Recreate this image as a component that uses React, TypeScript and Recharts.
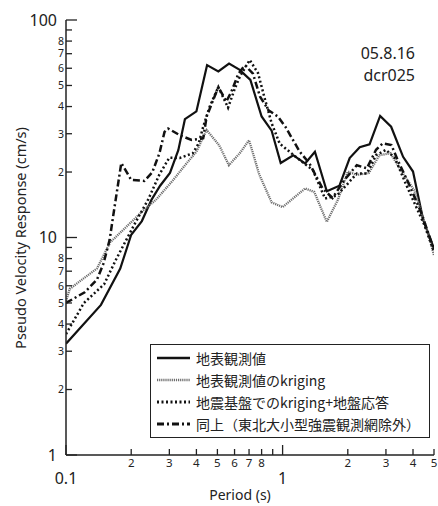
import React from 'react';
import { LineChart, Line, XAxis, YAxis, Legend } from 'recharts';

// 地表観測値
const obsPeriods = [0.1, 0.145, 0.178, 0.2, 0.224, 0.248, 0.272, 0.302, 0.33, 0.354, 0.4, 0.448, 0.505, 0.566, 0.634, 0.71, 0.8, 0.89, 0.98, 1.12, 1.27, 1.41, 1.6, 1.83, 2.04, 2.27, 2.52, 2.82, 3.17, 3.6, 4.0, 4.46, 5.0];
const obsValues = [3.25, 4.9, 7.2, 10.3, 11.9, 14.9, 17.3, 19.8, 25.2, 35, 38, 62, 58, 63, 59, 53, 36, 31, 22, 23.9, 21.9, 24.8, 16.3, 17.3, 23.2, 26, 26.8, 36.2, 32.3, 23.5, 20.1, 12, 8.9];

// 地表観測値のkriging
const krigPeriods = [0.1, 0.104, 0.121, 0.139, 0.16, 0.19, 0.229, 0.26, 0.31, 0.36, 0.4, 0.446, 0.51, 0.565, 0.634, 0.7, 0.78, 0.89, 1.0, 1.27, 1.4, 1.6, 1.8, 2.0, 2.2, 2.5, 2.8, 3.15, 3.5, 4.05, 4.6, 5.0];
const krigValues = [5.1, 5.8, 6.5, 7.2, 9.5, 11.2, 13.4, 14.9, 18.2, 21.9, 24.8, 31.2, 26.5, 21.5, 24.4, 28.0, 19.5, 14.5, 13.8, 16.8, 16.2, 11.8, 14.9, 20.1, 19.4, 19.8, 23.9, 24.4, 20.5, 16.5, 11.2, 8.3];

// 地震基盤でのkriging+地盤応答
const basePeriods = [0.1, 0.121, 0.15, 0.17, 0.206, 0.24, 0.27, 0.3, 0.335, 0.385, 0.41, 0.43, 0.46, 0.505, 0.56, 0.6, 0.634, 0.705, 0.77, 0.83, 0.89, 0.97, 1.2, 1.38, 1.57, 1.78, 1.97, 2.2, 2.45, 2.7, 3.0, 3.3, 3.7, 4.1, 4.5, 5.0];
const baseValues = [3.6, 5.0, 6.1, 7.9, 11.4, 15.0, 19.5, 23.3, 23.2, 24.4, 27.1, 32.3, 39.8, 49.2, 39.5, 48, 54.8, 65.5, 57, 43, 33.5, 27, 22.7, 20.4, 15.1, 15.6, 17.4, 19.7, 19.7, 23.9, 25.3, 23.2, 17.7, 14.1, 11.5, 8.6];

// 同上（東北大小型強震観測網除外）
const restPeriods = [0.1, 0.122, 0.139, 0.149, 0.159, 0.165, 0.18, 0.2, 0.23, 0.25, 0.27, 0.285, 0.296, 0.336, 0.38, 0.43, 0.446, 0.505, 0.55, 0.58, 0.625, 0.67, 0.73, 0.787, 0.86, 0.95, 1.03, 1.2, 1.33, 1.53, 1.7, 1.93, 2.2, 2.45, 2.7, 2.9, 3.18, 3.4, 3.85, 4.35, 5.0];
const restValues = [5.0, 5.6, 6.4, 7.6, 9.75, 12.5, 22, 18.4, 18.2, 19.9, 24.4, 30.6, 31.7, 29.5, 28.1, 28.6, 36, 49.2, 42.2, 46.8, 56.6, 62, 56.6, 44.4, 38.5, 36, 32.3, 24.8, 21.9, 16.8, 15.2, 18.4, 21.5, 20.8, 25.3, 27.1, 26.6, 22.7, 17.4, 13.1, 8.8];

const xTicks = [0.1, 0.2, 0.3, 0.4, 0.5, 0.6, 0.7, 0.8, 0.9, 1, 2, 3, 4, 5];
const yTicks = [1, 2, 3, 4, 5, 6, 7, 8, 9, 10, 20, 30, 40, 50, 60, 70, 80, 90, 100];

const toRows = (periods: number[], values: number[]) =>
  periods.map((p, i) => ({ period: p, value: values[i] }));

const series = [
  { key: 'obs', name: '地表観測値', data: toRows(obsPeriods, obsValues), stroke: '#111', width: 2.2, dash: undefined as string | undefined },
  { key: 'krig', name: '地表観測値のkriging', data: toRows(krigPeriods, krigValues), stroke: '#6e6e6e', width: 2.3, dash: '1.2 0.9' },
  { key: 'base', name: '地震基盤でのkriging+地盤応答', data: toRows(basePeriods, baseValues), stroke: '#111', width: 2.5, dash: '2 2.5' },
  { key: 'rest', name: '同上（東北大小型強震観測網除外）', data: toRows(restPeriods, restValues), stroke: '#111', width: 2.5, dash: '7 3 2 3' },
];

const INK = '#222';
const LATIN = "'Noto Sans', 'DejaVu Sans', sans-serif";
const CJK = "'Noto Sans CJK JP', sans-serif";

// leading digit of a log tick: 0.3 -> 3, 20 -> 2
const digit = (v: number) => {
  const d = Math.pow(10, Math.floor(Math.log10(v) + 1e-9));
  return Math.round(v / d);
};

const BottomTick = (props: any) => {
  const { x, y, payload } = props;
  const v = payload.value as number;
  const d = digit(v);
  const major = d === 1;
  return (
    <g>
      <line x1={x} y1={y} x2={x} y2={y - (major ? 10 : 6)} stroke={INK} strokeWidth={1.3} />
      {major ? (
        <text x={x} y={y + 28.5} textAnchor="middle" fontSize={16} fill={INK} fontFamily={LATIN}>
          {v < 1 ? '0.1' : '1'}
        </text>
      ) : d < 9 ? (
        <text x={x} y={y + 12} textAnchor="middle" fontSize={11.5} fill={INK} fontFamily={LATIN}>
          {d}
        </text>
      ) : null}
    </g>
  );
};

const TopTick = (props: any) => {
  const { x, y, payload } = props;
  const major = digit(payload.value) === 1;
  return <line x1={x} y1={y} x2={x} y2={y + (major ? 10 : 5)} stroke={INK} strokeWidth={1.3} />;
};

const LeftTick = (props: any) => {
  const { x, y, payload } = props;
  const v = payload.value as number;
  const d = digit(v);
  const major = d === 1;
  return (
    <g>
      <line x1={x} y1={y} x2={x + (major ? 11 : 6)} y2={y} stroke={INK} strokeWidth={1.3} />
      {major ? (
        <text x={x - 9} y={y + 5.5} textAnchor="end" fontSize={16} fill={INK} fontFamily={LATIN}>
          {v}
        </text>
      ) : d < 9 ? (
        <text x={x - 2} y={y + 3.8} textAnchor="end" fontSize={10.5} fill={INK} fontFamily={LATIN}>
          {d}
        </text>
      ) : null}
    </g>
  );
};

const RightTick = (props: any) => {
  const { x, y, payload } = props;
  const major = digit(payload.value) === 1;
  return <line x1={x} y1={y} x2={x - (major ? 10 : 5)} y2={y} stroke={INK} strokeWidth={1.3} />;
};

const LegendBox = () => (
  <div
    style={{
      width: 280,
      height: 94,
      boxSizing: 'border-box',
      border: `1.5px solid ${INK}`,
      background: '#fff',
      paddingTop: 2,
      fontFamily: CJK,
      fontSize: 14,
      color: INK,
    }}
  >
    {series.map((s) => (
      <div key={s.key} style={{ display: 'flex', alignItems: 'center', height: 22 }}>
        <svg width={45} height={10} style={{ flex: 'none' }}>
          <line x1={6} x2={39} y1={5} y2={5} stroke={s.stroke} strokeWidth={s.width + 0.3} strokeDasharray={s.dash} />
        </svg>
        <span style={{ whiteSpace: 'nowrap' }}>{s.name}</span>
      </div>
    ))}
  </div>
);

export default function App() {
  return (
    <div style={{ position: 'absolute', left: 0, top: 0, width: 438, height: 506, background: '#fff' }}>
      <LineChart width={438} height={506} margin={{ top: 20, right: 4, bottom: 0, left: 8 }}>
        <XAxis
          dataKey="period"
          type="number"
          scale="log"
          domain={[0.1, 5]}
          allowDataOverflow
          ticks={xTicks}
          interval={0}
          height={51}
          tickSize={0}
          tickMargin={0}
          tickLine={false}
          axisLine={{ stroke: INK, strokeWidth: 1.5 }}
          tick={<BottomTick />}
        />
        <XAxis
          xAxisId="top"
          orientation="top"
          dataKey="period"
          type="number"
          scale="log"
          domain={[0.1, 5]}
          allowDataOverflow
          ticks={xTicks}
          interval={0}
          height={0}
          tickSize={0}
          tickMargin={0}
          tickLine={false}
          axisLine={{ stroke: INK, strokeWidth: 1.5 }}
          tick={<TopTick />}
        />
        <YAxis
          type="number"
          scale="log"
          domain={[1, 100]}
          allowDataOverflow
          ticks={yTicks}
          interval={0}
          width={58}
          tickSize={0}
          tickMargin={0}
          tickLine={false}
          axisLine={{ stroke: INK, strokeWidth: 1.5 }}
          tick={<LeftTick />}
        />
        <YAxis
          yAxisId="right"
          orientation="right"
          type="number"
          scale="log"
          domain={[1, 100]}
          allowDataOverflow
          ticks={yTicks}
          interval={0}
          width={0}
          tickSize={0}
          tickMargin={0}
          tickLine={false}
          axisLine={{ stroke: INK, strokeWidth: 1.5 }}
          tick={<RightTick />}
        />
        {series.map((s) => (
          <Line
            key={s.key}
            data={s.data}
            dataKey="value"
            name={s.name}
            type="linear"
            stroke={s.stroke}
            strokeWidth={s.width}
            strokeDasharray={s.dash}
            dot={false}
            activeDot={false}
            isAnimationActive={false}
          />
        ))}
        <Legend
          layout="vertical"
          align="center"
          verticalAlign="middle"
          content={<LegendBox />}
          wrapperStyle={{ position: 'absolute', left: 150, top: 344, width: 280, height: 94 }}
        />
      </LineChart>

      <div style={{ position: 'absolute', right: 23, top: 42, textAlign: 'right', fontFamily: LATIN, fontSize: 16, lineHeight: '22px', color: INK }}>
        <div>05.8.16</div>
        <div>dcr025</div>
      </div>
      <div style={{ position: 'absolute', left: 190, width: 100, top: 486, textAlign: 'center', fontFamily: LATIN, fontSize: 14, lineHeight: '18px', color: INK }}>
        Period (s)
      </div>
      <div
        style={{
          position: 'absolute',
          left: 20,
          top: 238,
          transform: 'translate(-50%, -50%) rotate(-90deg)',
          whiteSpace: 'nowrap',
          fontFamily: LATIN,
          fontSize: 14.5,
          color: INK,
        }}
      >
        Pseudo Velocity Response (cm/s)
      </div>
    </div>
  );
}
